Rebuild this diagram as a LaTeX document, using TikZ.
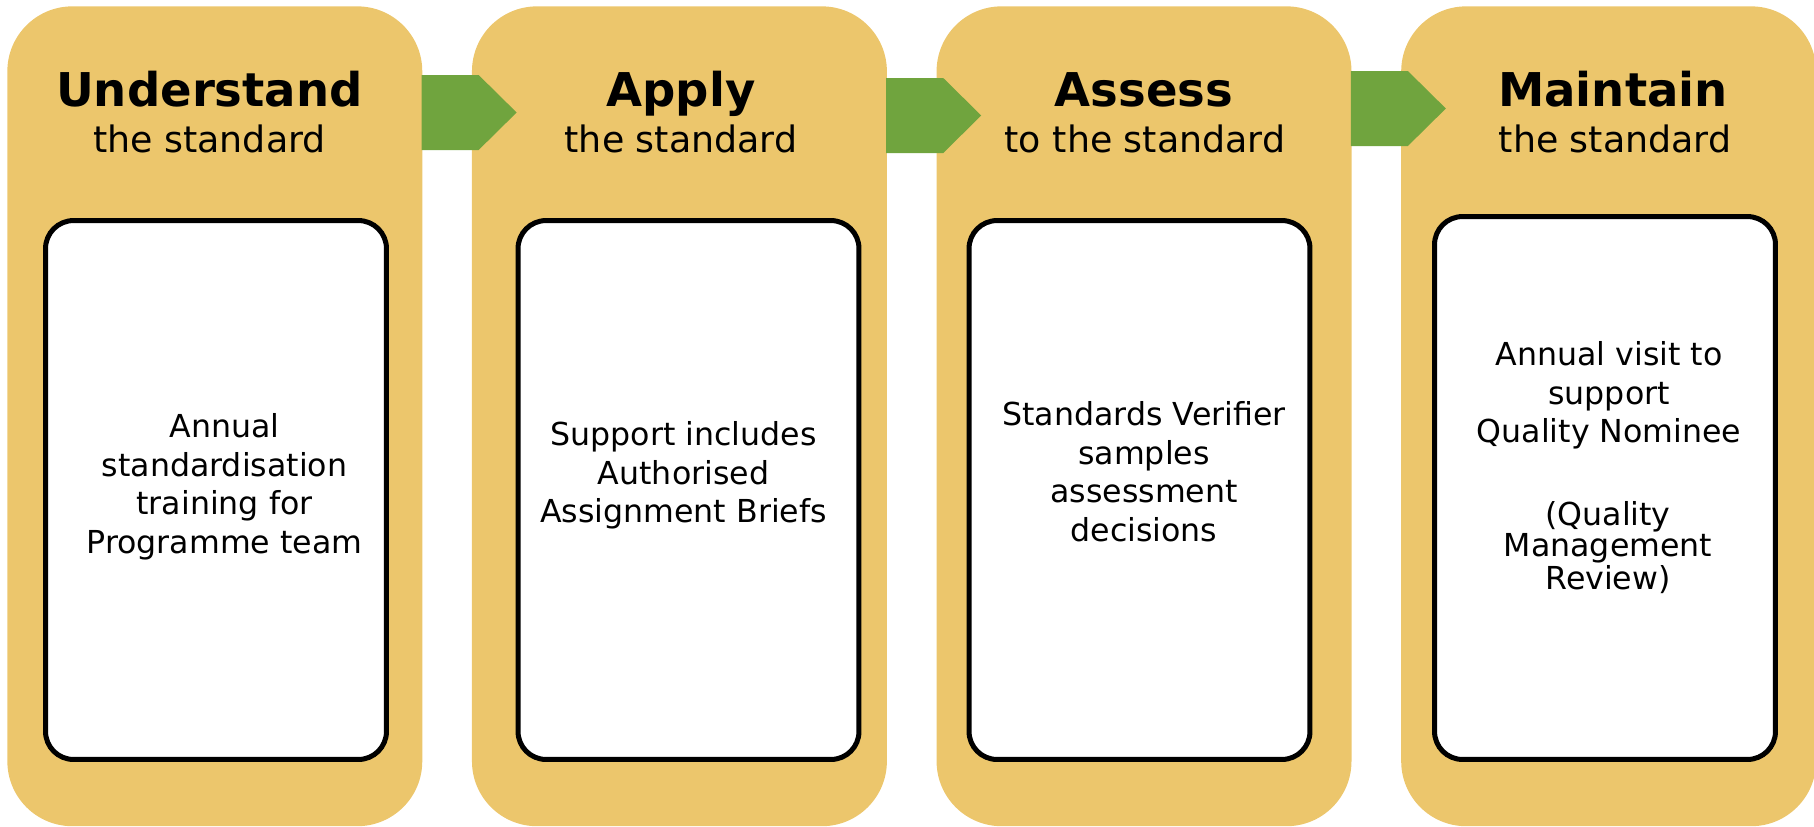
\documentclass[tikz,border=0pt]{standalone}
\usepackage{fontspec}
\setmainfont{DejaVu Sans}
\usetikzlibrary{positioning,calc}

\definecolor{stageyellow}{RGB}{236,198,108}
\definecolor{flowgreen}{RGB}{112,164,62}

\begin{document}
\begin{tikzpicture}[x=0.02cm,y=-0.02cm,
  stage/.style={fill=stageyellow, rounded corners=1.3cm, minimum width=8.3cm, minimum height=16.4cm, anchor=north west, inner sep=0pt},
  card/.style={draw=black, fill=white, line width=2.85pt, rounded corners=0.56cm, minimum width=6.82cm, minimum height=10.78cm},
  heading/.style={anchor=base, inner sep=0pt, font=\fontsize{26.5}{30}\selectfont\bfseries},
  subheading/.style={anchor=base, inner sep=0pt, font=\fontsize{20.7}{24}\selectfont},
  body/.style={anchor=north, inner sep=0pt, align=center, font=\fontsize{18}{22}\selectfont},
  flow/.style={fill=flowgreen}]

\useasboundingbox (0,0) rectangle (1814,826);

% stages
\node[stage]                     (p1) at (7,6) {};
\node[stage, right=0.98cm of p1] (p2) {};
\node[stage, right=0.98cm of p2] (p3) {};
\node[stage, right=0.98cm of p3] (p4) {};

% arrows between stages
\fill[flow] ($(p1.north east)+(-1,69)$) -- ++(57,0) -- ++(38,37.5) -- ++(-38,37.5) -- ++(-57,0) -- cycle;
\fill[flow] ($(p2.north east)+(-1,72)$) -- ++(57,0) -- ++(38,37.5) -- ++(-38,37.5) -- ++(-57,0) -- cycle;
\fill[flow] ($(p3.north east)+(-1,65)$) -- ++(57,0) -- ++(38,37.5) -- ++(-38,37.5) -- ++(-57,0) -- cycle;

% headings
\node[heading]    (h1) at (209.5,106) {Understand};
\node[subheading] (s1) at (209.5,152) {the standard};
\node[heading]    (h2) at (681,106)   {Apply};
\node[subheading] (s2) at (681,152)   {the standard};
\node[heading]    (h3) at (1144,106)  {Assess};
\node[subheading] (s3) at (1145,152)  {to the standard};
\node[heading]    (h4) at (1613,106)  {Maintain};
\node[subheading] (s4) at (1615,152)  {the standard};

% cards
\node[card] (c1) at (216,490)    {};
\node[card] (c2) at (688.5,490)  {};
\node[card] (c3) at (1139.5,490) {};
\node[card, minimum height=10.86cm] (c4) at (1605,488) {};

% card texts
\node[body] (t1) at (224.5,413) {Annual\\standardisation\\training for\\Programme team};
\node[body] (t2) at (683.5,421) {Support includes\\Authorised\\Assignment Briefs};
\node[body] (t3) at (1144,401)  {Standards Verifier\\samples\\assessment\\decisions};
\node[body] (t4) at (1609,341)  {Annual visit to\\support\\Quality Nominee};
\node[body, font=\fontsize{18}{16.5}\selectfont] (t5) at (1608,501) {(Quality\\Management\\Review)};

\end{tikzpicture}
\end{document}
